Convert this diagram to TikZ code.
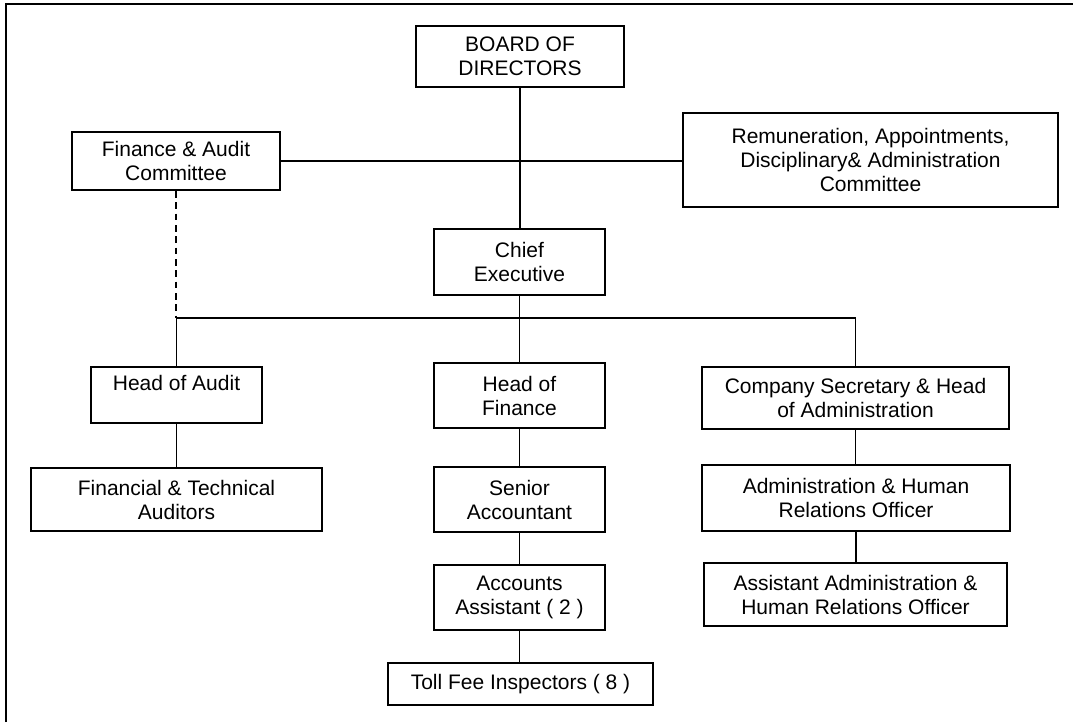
\documentclass[tikz,border=0pt]{standalone}
\usepackage{fontspec}
\setmainfont{Liberation Sans}
\begin{document}
\begin{tikzpicture}[x=0.75pt,y=-0.75pt,
  orgbox/.style={draw,line width=1.5pt,inner sep=0pt,align=center,
    font=\fontsize{15.75}{18}\selectfont},
  conn/.style={line width=1.4pt},
  dconn/.style={line width=1.4pt,dash pattern=on 5pt off 3.5pt}]
\useasboundingbox (0,0) rectangle (1073,722);
\draw[line width=1.8pt] (6,722) -- (6,4) -- (1073,4);

\node[orgbox,minimum width=156pt,minimum height=45.75pt] (board) at (520,56.5) {BOARD OF\\DIRECTORS};
\node[orgbox,minimum width=156pt,minimum height=43.5pt] (fac) at (176,161) {Finance \& Audit\\Committee};
\node[orgbox,minimum width=281.25pt,minimum height=70.5pt] (rem) at (870.5,160) {Remuneration, Appointments,\\Disciplinary\& Administration\\Committee};
\node[orgbox,minimum width=128.25pt,minimum height=49.5pt] (ce) at (519.5,262) {Chief\\Executive};
\node[orgbox,minimum width=128.25pt,minimum height=42pt] (hoa) at (176.5,395) {Head of Audit\\\mbox{}};
\node[orgbox,minimum width=218.25pt,minimum height=47.25pt] (fta) at (176.5,499.5) {Financial \& Technical\\Auditors};
\node[orgbox,minimum width=128.25pt,minimum height=48.75pt] (hof) at (519.5,395.5) {Head of\\Finance};
\node[orgbox,minimum width=128.25pt,minimum height=48.75pt] (sa) at (519.5,499.5) {Senior\\Accountant};
\node[orgbox,minimum width=128.25pt,minimum height=48.75pt] (aa) at (519.5,597.5) {Accounts\\Assistant ( 2 )};
\node[orgbox,minimum width=198.75pt,minimum height=31.5pt] (tfi) at (520.5,684) {Toll Fee Inspectors ( 8 )};
\node[orgbox,minimum width=230.25pt,minimum height=46.5pt] (cs) at (855.5,398) {Company Secretary \& Head\\of Administration};
\node[orgbox,minimum width=231pt,minimum height=49.5pt] (ahr) at (856,498) {Administration \& Human\\Relations Officer};
\node[orgbox,minimum width=227.25pt,minimum height=47.25pt] (aahr) at (855.5,594.5) {Assistant Administration \&\\Human Relations Officer};

\coordinate (bus) at (520,318);

\draw[conn] (board.south) -- (board.south |- ce.north);
\draw[conn] (fac.east) -- (fac.east -| rem.west);
\draw[conn] (ce.south) -- (hof.north);
\draw[conn] (hoa.north) -- (hoa.north |- bus) -| (cs.north);
\draw[dconn] (fac.south) -- (fac.south |- bus);
\draw[conn] (hoa.south) -- (fta.north);
\draw[conn] (hof.south) -- (sa.north);
\draw[conn] (sa.south) -- (aa.north);
\draw[conn] (aa.south) -- (aa.south |- tfi.north);
\draw[conn] (cs.south) -- (cs.south |- ahr.north);
\draw[conn] (ahr.south) -- (ahr.south |- aahr.north);
\end{tikzpicture}
\end{document}
